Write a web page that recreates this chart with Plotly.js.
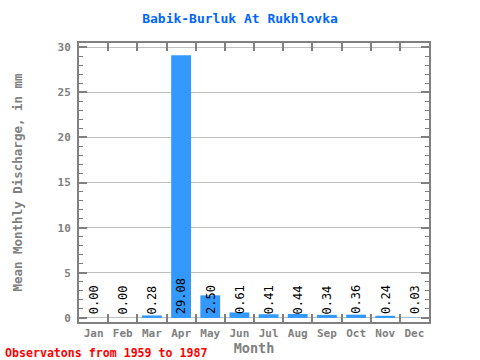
<!DOCTYPE html>
<html><head><meta charset="utf-8">
<script src="https://cdn.plot.ly/plotly-3.0.1.min.js"></script>
<style>body{margin:0}#c{width:480px;height:360px}</style>
</head><body><div id="c"></div>
<script>
var months = ["Jan","Feb","Mar","Apr","May","Jun","Jul","Aug","Sep","Oct","Nov","Dec"];
var discharge = [0.00,0.00,0.28,29.08,2.50,0.61,0.41,0.44,0.34,0.36,0.24,0.03];
var labels = ["0.00","0.00","0.28","29.08","2.50","0.61","0.41","0.44","0.34","0.36","0.24","0.03"];
var yTicks = [0,5,10,15,20,25,30];

var F = "'DejaVu Sans Mono', 'Liberation Mono', monospace";
var grey = "#808080";
var ann = months.map(function(m,i){
  return {x:m, y:0.2, xref:'x', yref:'y', text:labels[i], textangle:-90,
    showarrow:false, xanchor:'center', yanchor:'bottom',
    font:{family:F, size:12, color:'#000'}};
});
ann.push({x:0, y:0, xref:'paper', yref:'paper', xanchor:'left', yanchor:'bottom',
  xshift:-76, yshift:-40, text:'<b>Observatons from 1959 to 1987</b>', showarrow:false,
  font:{family:F, size:11.6, color:'#ff0000'}});

Plotly.newPlot('c', [{
  type:'bar', x:months, y:discharge, width:0.68,
  marker:{color:'#3399ff'}, hoverinfo:'none'
}], {
  width:480, height:360,
  margin:{l:79, r:51, t:43, b:38},
  paper_bgcolor:'#fff', plot_bgcolor:'#fff',
  showlegend:false,
  title:{text:'<b>Babik-Burluk At Rukhlovka</b>', x:0.5, xanchor:'center', y:0.95, yanchor:'middle',
    font:{family:F, size:13, color:'#0066ff'}},
  xaxis:{type:'category', tickson:'boundaries', ticks:'inside', ticklen:8, tickwidth:2, tickcolor:grey,
    showline:true, linewidth:2, linecolor:grey, mirror:'ticks', showgrid:false, tickangle:0,
    tickfont:{family:F, size:11, color:grey, weight:'bold'},
    title:{text:'<b>Month</b>', font:{family:F, size:13.5, color:grey}, standoff:0}},
  yaxis:{range:[-0.45,30.45], tickvals:yTicks, ticks:'inside', ticklen:8, tickwidth:2, tickcolor:grey,
    showline:true, linewidth:2, linecolor:grey, mirror:'ticks', showgrid:true, gridcolor:'#c0c0c0', gridwidth:1,
    zeroline:false, ticklabelstandoff:4,
    minor:{dtick:1, ticks:'inside', ticklen:4, tickwidth:1, tickcolor:grey, showgrid:false},
    tickfont:{family:F, size:11, color:grey, weight:'bold'},
    title:{text:'<b>Mean Monthly Discharge, in mm</b>', font:{family:F, size:12.5, color:grey}, standoff:32}},
  annotations:ann
}, {displayModeBar:false, staticPlot:true});
</script></body></html>
